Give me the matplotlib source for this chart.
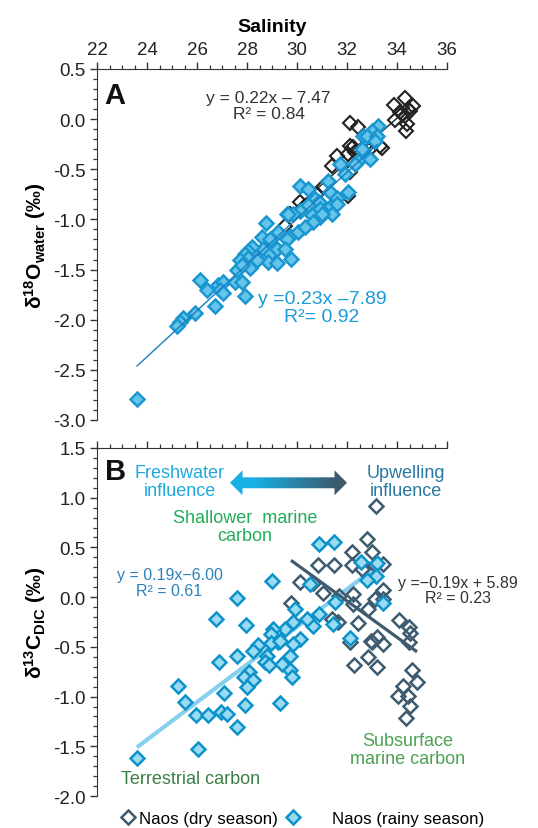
import numpy as np
import matplotlib
matplotlib.use("Agg")
import matplotlib.pyplot as plt
from matplotlib.lines import Line2D
from matplotlib.patches import Polygon
from matplotlib.ticker import MultipleLocator

plt.rcParams["font.family"] = ["Liberation Sans", "DejaVu Sans"]
plt.rcParams["mathtext.fontset"] = "custom"
plt.rcParams["mathtext.rm"] = "Liberation Sans"
plt.rcParams["mathtext.bf"] = "Liberation Sans:bold"

# ---- panel A: salinity vs d18O water ----
sal_a_dry = [34.32, 33.88, 34.64, 34.44, 34.12, 34.32, 33.92, 34.40, 34.36, 32.12,
             32.44, 33.40, 32.84, 32.12, 32.24, 32.04, 32.72, 32.12, 31.60, 31.40,
             31.04, 32.04, 33.12, 33.32, 30.12, 29.72, 29.52, 34.20, 34.50, 32.30,
             32.90, 30.80, 30.30]
d18o_a_dry = [0.21, 0.14, 0.13, 0.10, 0.07, 0.03, -0.01, -0.05, -0.12, -0.04,
              -0.08, -0.29, -0.38, -0.27, -0.28, -0.35, -0.27, -0.53, -0.37, -0.47,
              -0.68, -0.77, -0.23, -0.27, -0.83, -0.95, -1.07, 0.05, 0.08, -0.33,
              -0.30, -0.75, -0.87]

sal_a_rain = [33.24, 33.00, 32.64, 32.80, 33.20, 32.44, 32.32, 31.72, 33.12, 31.24,
              30.12, 30.44, 31.32, 32.04, 31.60, 30.72, 30.88, 30.44, 31.32, 30.92,
              29.60, 30.60, 31.40, 31.60, 30.92, 30.64, 30.12, 29.84, 29.64, 29.72,
              30.04, 30.32, 29.60, 29.24, 28.76, 28.60, 28.92, 28.64, 28.92, 29.20,
              29.52, 28.84, 29.20, 29.76, 28.20, 28.04, 27.92, 28.04, 27.72, 28.40,
              28.12, 27.60, 27.80, 26.12, 26.40, 26.84, 27.04, 26.92, 27.04, 27.52,
              27.80, 27.92, 26.72, 25.92, 25.44, 25.32, 25.20, 23.60, 32.60, 31.90,
              32.90, 31.00]
d18o_a_rain = [-0.07, -0.12, -0.17, -0.17, -0.17, -0.42, -0.45, -0.45, -0.22, -0.62,
               -0.67, -0.70, -0.73, -0.73, -0.79, -0.80, -0.83, -0.86, -0.88, -0.90,
               -0.95, -0.96, -0.95, -0.85, -0.98, -1.03, -0.92, -0.95, -0.95, -1.17,
               -1.13, -1.08, -1.20, -1.13, -1.04, -1.18, -1.20, -1.30, -1.35, -1.30,
               -1.30, -1.42, -1.43, -1.39, -1.28, -1.32, -1.35, -1.38, -1.40, -1.40,
               -1.48, -1.50, -1.45, -1.60, -1.70, -1.65, -1.62, -1.70, -1.73, -1.62,
               -1.62, -1.76, -1.86, -1.93, -1.98, -2.02, -2.06, -2.79, -0.30, -0.55,
               -0.40, -0.95]

# regression lines in A: slope, intercept, x range
fit_a_dry = (0.22, -7.47, 29.7, 34.5)
fit_a_rain = (0.23, -7.89, 23.6, 33.2)

# ---- panel B: salinity vs d13C DIC ----
sal_b_dry = [33.16, 32.80, 32.20, 33.00, 30.84, 31.48, 32.20, 32.60, 33.44, 33.12,
             30.12, 31.04, 32.24, 31.68, 33.44, 33.44, 33.12, 32.24, 32.84, 29.76,
             31.40, 31.64, 32.44, 34.08, 34.48, 34.52, 32.96, 33.20, 32.12, 33.00,
             33.44, 34.48, 32.28, 32.84, 33.20, 34.60, 34.80, 34.24, 34.04, 34.44,
             34.52, 34.36, 30.64]
d13c_b_dry = [0.92, 0.58, 0.45, 0.45, 0.32, 0.32, 0.32, 0.28, 0.33, 0.32,
              0.15, 0.04, 0.03, 0.01, 0.07, -0.02, -0.02, -0.07, -0.12, -0.06,
              -0.22, -0.25, -0.26, -0.23, -0.30, -0.36, -0.44, -0.40, -0.45, -0.45,
              -0.47, -0.45, -0.68, -0.60, -0.70, -0.73, -0.85, -0.89, -0.99, -0.99,
              -1.09, -1.22, 0.14]

sal_b_rain = [30.88, 31.48, 32.56, 33.20, 33.16, 32.80, 29.00, 30.52, 27.60, 33.44,
              31.52, 29.92, 26.76, 27.96, 29.84, 30.64, 31.44, 29.52, 29.04, 28.96,
              29.24, 30.12, 32.12, 30.40, 30.88, 28.44, 28.24, 28.96, 29.32, 29.84,
              26.88, 27.60, 28.80, 28.72, 28.88, 29.40, 29.72, 29.72, 29.80, 28.08,
              27.88, 28.24, 28.00, 25.24, 27.08, 25.52, 27.92, 29.32, 25.96, 26.44,
              26.96, 27.20, 27.60, 26.04, 23.60]
d13c_b_rain = [0.53, 0.55, 0.35, 0.34, 0.21, 0.17, 0.16, 0.13, -0.01, -0.06,
               -0.05, -0.12, -0.22, -0.28, -0.25, -0.29, -0.27, -0.32, -0.32, -0.37,
               -0.45, -0.42, -0.41, -0.22, -0.17, -0.48, -0.54, -0.46, -0.44, -0.47,
               -0.65, -0.59, -0.59, -0.65, -0.68, -0.67, -0.59, -0.73, -0.80, -0.75,
               -0.80, -0.83, -0.90, -0.89, -0.96, -1.05, -1.08, -1.06, -1.19, -1.19,
               -1.16, -1.18, -1.31, -1.53, -1.62]

# regression lines in B as drawn: (x0, y0, x1, y1)
fit_b_rain = (23.6, -1.51, 33.32, 0.33)
fit_b_dry = (29.76, 0.37, 34.8, -0.55)

fig = plt.figure(figsize=(5.38, 8.29), dpi=100)
axA = fig.add_axes([0.1803, 0.4922, 0.6506, 0.4234])
axB = fig.add_axes([0.1803, 0.0386, 0.6506, 0.4198])

dark = "#222222"
slate = "#3e5b70"
blue_edge = "#1a97d0"
ms = 7

for ax in (axA, axB):
    ax.set_xlim(22, 36)
    ax.spines["bottom"].set_visible(False)
    ax.spines["right"].set_visible(False)
    ax.spines["left"].set_color("#333333")
    ax.spines["top"].set_color("#333333")
    ax.xaxis.tick_top()
    ax.xaxis.set_major_locator(MultipleLocator(2))
    ax.xaxis.set_minor_locator(MultipleLocator(0.5))
    ax.yaxis.set_major_locator(MultipleLocator(0.5))
    ax.yaxis.set_minor_locator(MultipleLocator(0.1))
    ax.tick_params(which="both", direction="out", colors="#333333", labelsize=13.5,
                   labelcolor="#222222")
    ax.tick_params(which="major", length=5, width=1, pad=3)
    ax.tick_params(which="minor", length=3, width=0.9)
    ax.yaxis.set_major_formatter(matplotlib.ticker.FormatStrFormatter("%.1f"))

axA.set_ylim(-3.0, 0.5)
axB.set_ylim(-2.0, 1.5)
axB.tick_params(axis="x", labeltop=False)
axA.set_xlabel("Salinity", fontsize=14, fontweight="bold", labelpad=7)
axA.xaxis.set_label_position("top")
axA.set_ylabel(r"$\mathbf{\delta^{18}O_{water}}$ (‰)", fontsize=15, fontweight="bold", labelpad=4)
axB.set_ylabel(r"$\mathbf{\delta^{13}C_{DIC}}$ (‰)", fontsize=15, fontweight="bold", labelpad=4)

# panel A
xs = np.array(fit_a_dry[2:])
axA.plot(xs, fit_a_dry[0] * xs + fit_a_dry[1], color=dark, lw=1.0, zorder=2)
axA.plot(sal_a_dry, d18o_a_dry, ls="none", marker="D", ms=ms, mfc="none",
         mec=dark, mew=1.5, zorder=3)
axA.plot(sal_a_rain, d18o_a_rain, ls="none", marker="D", ms=ms, mfc="#66c3ea",
         mec=blue_edge, mew=1.8, zorder=4)
xs = np.array(fit_a_rain[2:])
axA.plot(xs, fit_a_rain[0] * xs + fit_a_rain[1], color="#1a7ec0", lw=1.0, zorder=5)

axA.text(0.022, 0.925, "A", transform=axA.transAxes, fontsize=21, fontweight="bold",
         ha="left", va="center", color="#111111")
axA.text(0.49, 0.895, "y = 0.22x \u2013 7.47\nR\u00b2 = 0.84", transform=axA.transAxes,
         fontsize=12.5, ha="center", va="center", color="#333333", linespacing=1.1)
axA.text(0.643, 0.32, "y =0.23x \u20137.89\nR\u00b2= 0.92", transform=axA.transAxes,
         fontsize=14, ha="center", va="center", color="#1a9bd7", linespacing=1.05)

# panel B
axB.plot(fit_b_rain[0::2], fit_b_rain[1::2], color="#86d0ee", lw=3, zorder=2,
         solid_capstyle="butt")
axB.plot(sal_b_dry, d13c_b_dry, ls="none", marker="D", ms=ms, mfc="none",
         mec=slate, mew=1.8, zorder=3)
axB.plot(sal_b_rain, d13c_b_rain, ls="none", marker="D", ms=ms, mfc="#9adaf2",
         mec="#0c93c9", mew=1.8, zorder=4)
axB.plot(fit_b_dry[0::2], fit_b_dry[1::2], color=slate, lw=2.3, zorder=5,
         solid_capstyle="butt")

axB.text(0.022, 0.935, "B", transform=axB.transAxes, fontsize=21, fontweight="bold",
         ha="left", va="center", color="#111111")
axB.text(25.3, 1.16, "Freshwater\ninfluence", fontsize=13, ha="center", va="center",
         color="#1ea8de", linespacing=1.1)
axB.text(34.36, 1.16, "Upwelling\ninfluence", fontsize=13, ha="center", va="center",
         color="#2878a2", linespacing=1.1)
axB.text(27.92, 0.71, "Shallower  marine\ncarbon", fontsize=13, ha="center", va="center",
         color="#22ad57", linespacing=1.1)
axB.text(24.9, 0.15, "y = 0.19x\u22126.00\nR\u00b2 = 0.61", fontsize=11.5, ha="center",
         va="center", color="#2a82bd", linespacing=1.05)
axB.text(36.44, 0.07, "y =\u22120.19x + 5.89\nR\u00b2 = 0.23", fontsize=11.5, ha="center",
         va="center", color="#333333", linespacing=1.05, clip_on=False)
axB.text(25.76, -1.82, "Terrestrial carbon", fontsize=13, ha="center", va="center",
         color="#3b7f45")
axB.text(34.44, -1.53, "Subsurface\nmarine carbon", fontsize=13, ha="center",
         va="center", color="#4ca153", linespacing=1.1)

# gradient double arrow
ax0, ax1, ay = 27.32, 32.0, 1.15
shaft, head, hl = 0.055, 0.125, 0.5
arrow_pts = [(ax0, ay), (ax0 + hl, ay + head), (ax0 + hl, ay + shaft),
             (ax1 - hl, ay + shaft), (ax1 - hl, ay + head), (ax1, ay),
             (ax1 - hl, ay - head), (ax1 - hl, ay - shaft), (ax0 + hl, ay - shaft),
             (ax0 + hl, ay - head)]
poly = Polygon(arrow_pts, closed=True, facecolor="none", edgecolor="none")
axB.add_patch(poly)
c0 = np.array([0x17, 0xb0, 0xe6]) / 255
c1 = np.array([0x3c, 0x5a, 0x6c]) / 255
t = np.linspace(0, 1, 256)
t = np.clip((t - 0.2) / 0.7, 0, 1)
grad = (c0[None, :] * (1 - t[:, None]) + c1[None, :] * t[:, None])[None, :, :]
im = axB.imshow(grad, extent=[ax0, ax1, ay - head, ay + head], aspect="auto",
                zorder=3, interpolation="bilinear")
im.set_clip_path(poly)
axB.set_xlim(22, 36)
axB.set_ylim(-2.0, 1.5)

# legend
h_dry = Line2D([], [], ls="none", marker="D", ms=ms, mfc="none", mec=slate, mew=1.8)
h_rain = Line2D([], [], ls="none", marker="D", ms=ms, mfc="#9adaf2", mec="#0c93c9", mew=1.8)
fig.legend([h_dry], ["Naos (dry season)"], loc="center left",
           bbox_to_anchor=(0.225, 0.011), frameon=False, fontsize=12.2,
           handlelength=0.8, handletextpad=0.25, borderpad=0, borderaxespad=0)
fig.legend([h_rain], ["Naos (rainy season)"], loc="center left",
           bbox_to_anchor=(0.532, 0.011), frameon=False, fontsize=12.2,
           handlelength=0.8, handletextpad=1.9, borderpad=0, borderaxespad=0)

fig.savefig("out.png", dpi=100)
